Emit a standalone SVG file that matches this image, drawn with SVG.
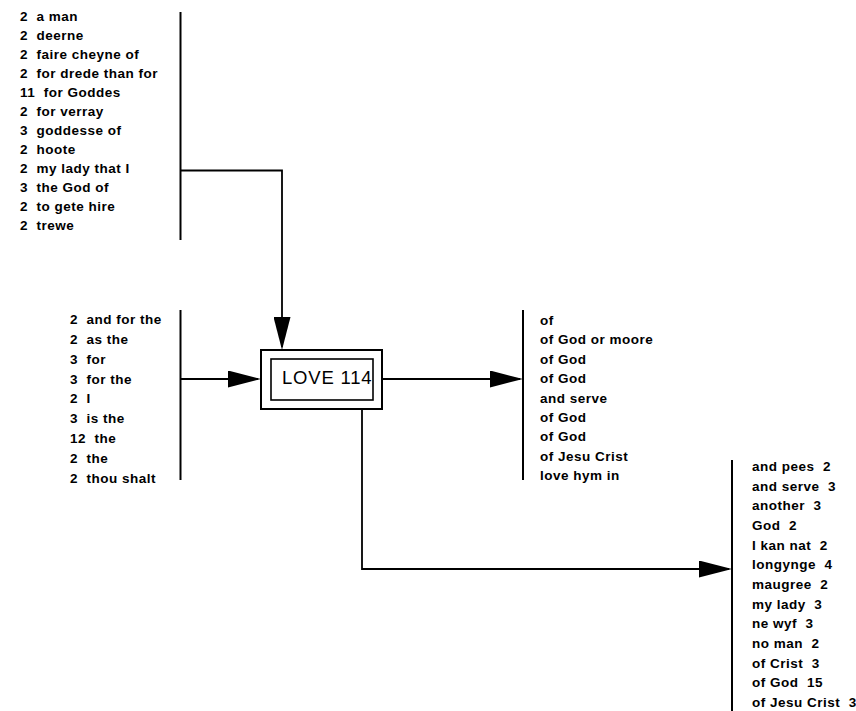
<svg xmlns="http://www.w3.org/2000/svg" width="856" height="711" viewBox="0 0 856 711">
<defs>
<style>
.t{font-family:"Liberation Sans",Arial,Helvetica,sans-serif;font-weight:bold;font-size:13.5px;letter-spacing:0.5px;fill:#000;white-space:pre}
.br{stroke:#000;stroke-width:2;fill:none}
.c{stroke:#000;stroke-width:1.8;fill:none;marker-end:url(#ah)}
.hub{font-family:"Liberation Sans",Arial,Helvetica,sans-serif;font-size:18.5px;letter-spacing:0.8px;fill:#000}
</style>
<marker id="ah" viewBox="0 0 33 17" refX="30" refY="8.5" markerWidth="33" markerHeight="17" markerUnits="userSpaceOnUse" orient="auto">
<path d="M0,0 L33,8.5 L0,17 z" fill="#000"/>
</marker>
</defs>
<rect width="856" height="711" fill="#fff"/>
<g id="connectors">
<path class="c" d="M180,170.5 H282 V347"/>
<path class="c" d="M180,379 H258"/>
<path class="c" d="M382,379 H520"/>
<path class="c" d="M362,409 V569 H729"/>
</g>
<g id="node-love">
<rect x="261" y="350" width="121" height="59" fill="#fff" stroke="#000" stroke-width="2"/>
<rect x="271" y="359" width="102" height="41" fill="none" stroke="#000" stroke-width="1.6"/>
<text class="hub" x="282" y="384">LOVE 114</text>
</g>
<g id="left-top">
<line class="br" x1="180.5" y1="12" x2="180.5" y2="240"/>
<text class="t" x="20" y="21">2  a man</text>
<text class="t" x="20" y="40">2  deerne</text>
<text class="t" x="20" y="59">2  faire cheyne of</text>
<text class="t" x="20" y="78">2  for drede than for</text>
<text class="t" x="20" y="97">11  for Goddes</text>
<text class="t" x="20" y="116">2  for verray</text>
<text class="t" x="20" y="135">3  goddesse of</text>
<text class="t" x="20" y="154">2  hoote</text>
<text class="t" x="20" y="173">2  my lady that I</text>
<text class="t" x="20" y="192">3  the God of</text>
<text class="t" x="20" y="211">2  to gete hire</text>
<text class="t" x="20" y="230">2  trewe</text>
</g>
<g id="left-mid">
<line class="br" x1="180.5" y1="310" x2="180.5" y2="480"/>
<text class="t" x="70" y="324">2  and for the</text>
<text class="t" x="70" y="344">2  as the</text>
<text class="t" x="70" y="364">3  for</text>
<text class="t" x="70" y="384">3  for the</text>
<text class="t" x="70" y="403">2  I</text>
<text class="t" x="70" y="423">3  is the</text>
<text class="t" x="70" y="443">12  the</text>
<text class="t" x="70" y="463">2  the</text>
<text class="t" x="70" y="483">2  thou shalt</text>
</g>
<g id="right-mid">
<line class="br" x1="523" y1="310" x2="523" y2="480"/>
<text class="t" x="540" y="325">of</text>
<text class="t" x="540" y="344">of God or moore</text>
<text class="t" x="540" y="364">of God</text>
<text class="t" x="540" y="383">of God</text>
<text class="t" x="540" y="403">and serve</text>
<text class="t" x="540" y="422">of God</text>
<text class="t" x="540" y="441">of God</text>
<text class="t" x="540" y="461">of Jesu Crist</text>
<text class="t" x="540" y="480">love hym in</text>
</g>
<g id="right-bottom">
<line class="br" x1="732" y1="460" x2="732" y2="711"/>
<text class="t" x="752" y="471">and pees  2</text>
<text class="t" x="752" y="491">and serve  3</text>
<text class="t" x="752" y="510">another  3</text>
<text class="t" x="752" y="530">God  2</text>
<text class="t" x="752" y="550">I kan nat  2</text>
<text class="t" x="752" y="569">longynge  4</text>
<text class="t" x="752" y="589">maugree  2</text>
<text class="t" x="752" y="609">my lady  3</text>
<text class="t" x="752" y="628">ne wyf  3</text>
<text class="t" x="752" y="648">no man  2</text>
<text class="t" x="752" y="668">of Crist  3</text>
<text class="t" x="752" y="687">of God  15</text>
<text class="t" x="752" y="707">of Jesu Crist  3</text>
</g>
</svg>
